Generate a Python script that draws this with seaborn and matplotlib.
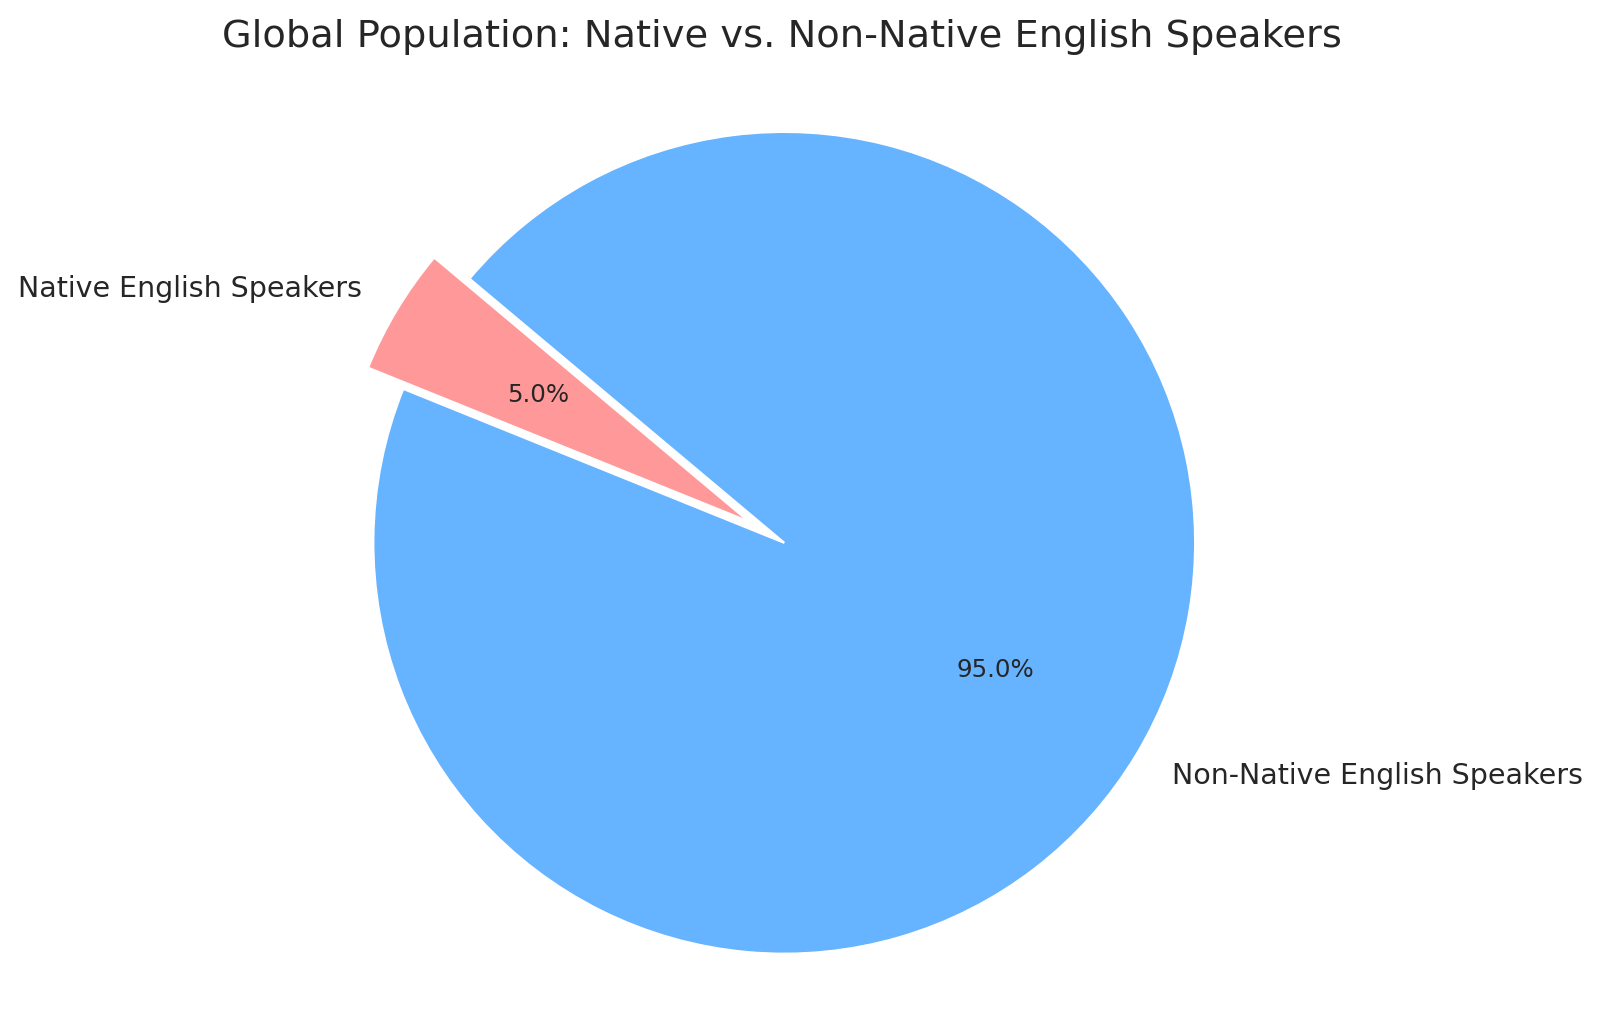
import matplotlib
matplotlib.use('Agg')
import matplotlib.pyplot as plt
import seaborn as sns

# data
labels = ['Native English Speakers', 'Non-Native English Speakers']
shares = [5, 95]
colors = ['#ff9999', '#66b3ff']
explode = (0.1, 0)

sns.set_theme(style='whitegrid')
plt.rcParams['font.family'] = ['DejaVu Sans']

fig, ax = plt.subplots(figsize=(10, 6.32), dpi=160)
ax.pie(
    shares,
    labels=labels,
    colors=colors,
    explode=explode,
    autopct='%1.1f%%',
    startangle=140,
    textprops={'fontsize': 12.85},
)
for t in ax.texts:
    if t.get_text().endswith('%'):
        t.set_fontsize(11)
ax.axis('equal')
ax.set_title('Global Population: Native vs. Non-Native English Speakers', fontsize=17.25, pad=20)
fig.subplots_adjust(left=-0.0115, right=0.9885, top=0.91, bottom=0.016)
plt.savefig('out.png', dpi=160)
